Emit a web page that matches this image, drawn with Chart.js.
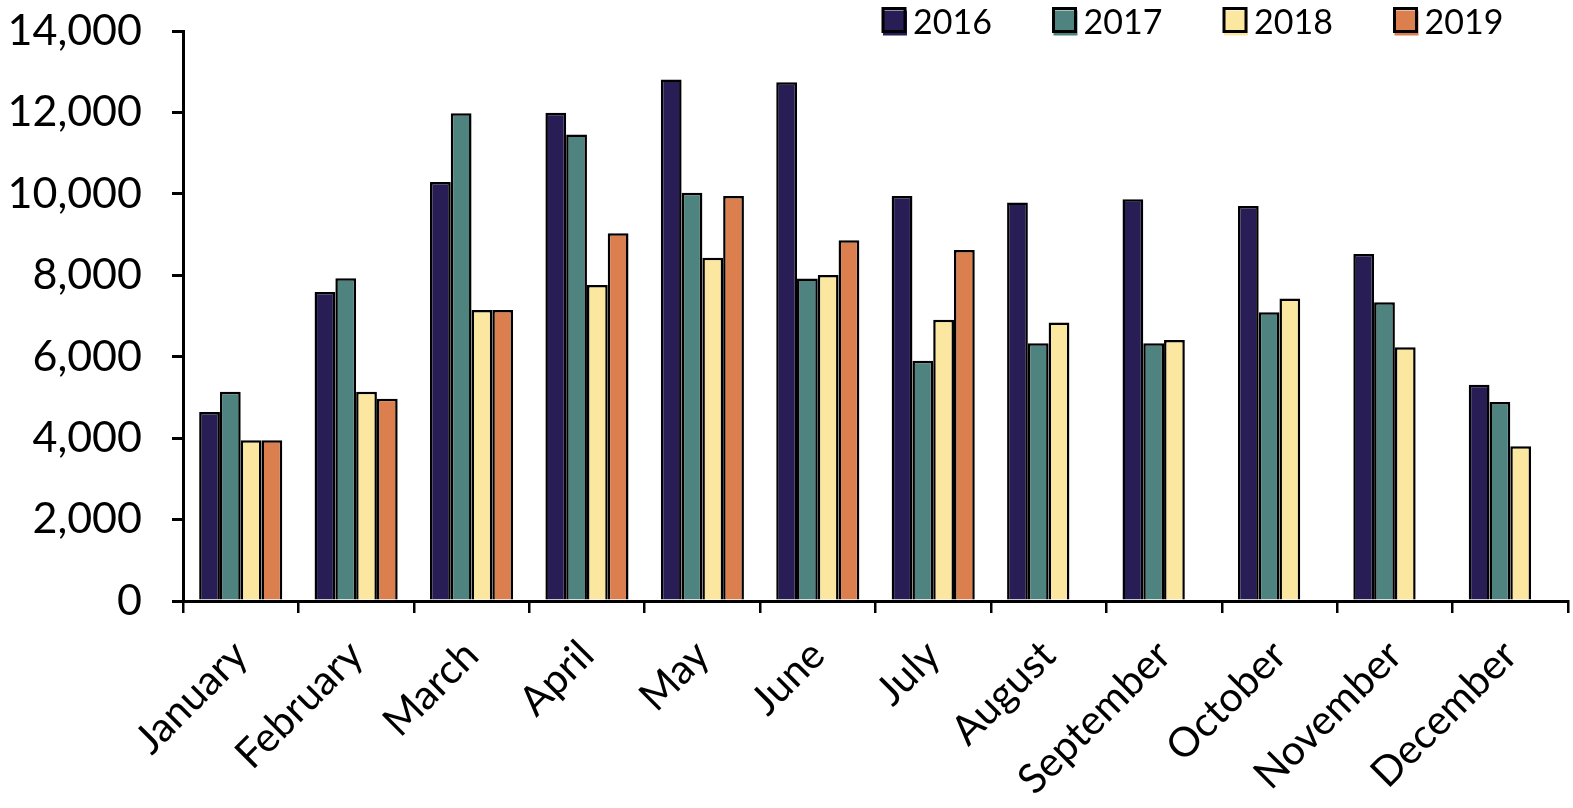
<!DOCTYPE html>
<html><head><meta charset="utf-8">
<script src="https://cdn.jsdelivr.net/npm/chart.js@4/dist/chart.umd.min.js"></script>
<style>html,body{margin:0;padding:0;background:#fff}#wrap{width:1573px;height:808px}</style>
</head><body><div id="wrap"><canvas id="c" width="1573" height="808"></canvas></div>
<script>
const months = ["January","February","March","April","May","June","July","August","September","October","November","December"];
const years = ["2016","2017","2018","2019"];
const values2016 = [4640,7590,10290,11990,12810,12740,9950,9790,9870,9700,8520,5310];
const values2017 = [5140,7930,11980,11460,10030,7920,5900,6330,6330,7090,7340,4890];
const values2018 = [3950,5140,7150,7760,8430,8010,6910,6840,6410,7430,6230,3800];
const values2019 = [3950,4970,7150,9030,9950,8860,8620,null,null,null,null,null];
const yTicks = [0,2000,4000,6000,8000,10000,12000,14000];
const colors = ["#291d55","#4f8380","#fbe7a0","#dc7f4e"];

const FONT = "Lato";

const legendPlugin = {
  id: 'boxLegend',
  afterDraw(chart) {
    const ctx = chart.ctx;
    const startX = 883, step = 170.5, cy = 21, bw = 24, bh = 25;
    ctx.save();
    ctx.font = "34px " + FONT;
    ctx.textBaseline = "middle";
    ctx.textAlign = "left";
    chart.data.datasets.forEach((ds, i) => {
      const x = startX + i * step;
      ctx.fillStyle = ds.backgroundColor;
      ctx.fillRect(x, cy - bh / 2 + 2, bw, bh);
      ctx.lineWidth = 3;
      ctx.strokeStyle = "#000";
      ctx.strokeRect(x, cy - bh / 2, bw - 2, bh - 2);
      ctx.fillStyle = "#000";
      ctx.fillText(ds.label, x + bw + 6, cy + 2);
    });
    ctx.restore();
  }
};

const seriesValues = [values2016, values2017, values2018, values2019];

new Chart(document.getElementById('c'), {
  type: 'bar',
  data: {
    labels: months,
    datasets: years.map((y, i) => ({
      label: y,
      data: seriesValues[i],
      backgroundColor: colors[i],
      borderColor: "#000",
      borderWidth: 2.5,
      borderSkipped: 'bottom',
      categoryPercentage: 0.72,
      barPercentage: 1.0
    }))
  },
  options: {
    responsive: false,
    animation: false,
    layout: { padding: { top: 31, right: 5, left: 0, bottom: 0 } },
    plugins: { legend: { display: false }, tooltip: { enabled: false } },
    scales: {
      y: {
        min: 0, max: 14000,
        afterBuildTicks: s => { s.ticks = yTicks.map(v => ({ value: v })); },
        afterFit: s => { s.width = 183; s.paddingTop = 0; s.paddingBottom = 0; },
        ticks: {
          color: "#000",
          padding: 30,
          font: { family: FONT, size: 43 },
          callback: v => Number(v).toLocaleString('en-US')
        },
        grid: { drawOnChartArea: false, drawTicks: true, tickLength: 11, color: "#000", lineWidth: 3 },
        border: { color: "#000", width: 3 }
      },
      x: {
        afterFit: s => { s.height = 207; s.paddingLeft = 0; s.paddingRight = 0; },
        ticks: {
          color: "#000",
          maxRotation: 45, minRotation: 45,
          padding: 18,
          font: { family: FONT, size: 41 }
        },
        grid: { offset: true, drawOnChartArea: false, drawTicks: true, tickLength: 12, color: "#000", lineWidth: 2.5 },
        border: { color: "#000", width: 3 }
      }
    }
  },
  plugins: [legendPlugin]
});
</script>
</body></html>
